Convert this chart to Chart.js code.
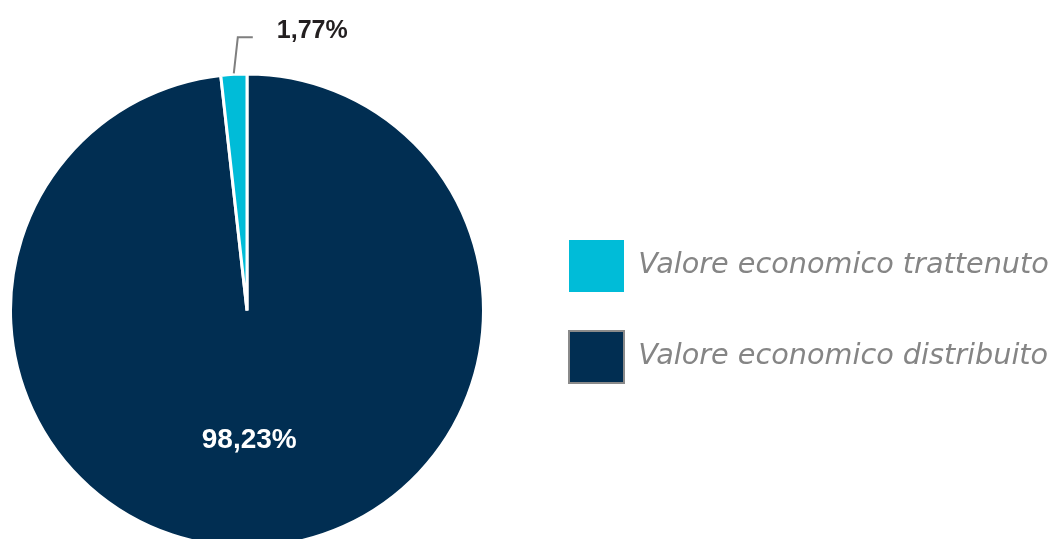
<!DOCTYPE html>
<html>
<head>
<meta charset="utf-8">
<script src="https://cdn.jsdelivr.net/npm/chart.js@4/dist/chart.umd.min.js"></script>
<style>
  html, body { margin: 0; padding: 0; background: #ffffff; }
  #wrap { width: 1053px; height: 539px; position: relative; overflow: hidden; }
</style>
</head>
<body>
<div id="wrap"><canvas id="chart"></canvas></div>
<script>
// Composizione del valore economico generato
const categories = ['Valore economico distribuito', 'Valore economico trattenuto'];
const shares = [98.23, 1.77];
const valueLabels = ['98,23%', '1,77%'];
const sliceColors = ['#012e52', '#00bcd8'];

// Pie placement: centre and radius of the disc on the canvas
const PIE_CX = 247, PIE_CY = 310.5, PIE_R = 238;
// Width reserved for the legend column on the right
const LEGEND_W = 523;

const pieFrame = {
  id: 'pieFrame',
  beforeLayout(chart) {
    const lg = chart.legend;
    if (lg && !lg._fixedWidth) {
      const fit = lg.fit;
      lg.fit = function () {
        fit.call(this);
        this.width = LEGEND_W;
      };
      lg._fixedWidth = true;
    }
  },
  afterLayout(chart) {
    chart.chartArea = {
      left: PIE_CX - PIE_R, top: PIE_CY - PIE_R,
      right: PIE_CX + PIE_R, bottom: PIE_CY + PIE_R,
      width: 2 * PIE_R, height: 2 * PIE_R
    };
  }
};

const sliceLabels = {
  id: 'sliceLabels',
  afterDatasetsDraw(chart) {
    const ctx = chart.ctx;
    const meta = chart.getDatasetMeta(0);
    meta.data.forEach((arc, i) => {
      const p = arc.getProps(['x', 'y', 'startAngle', 'endAngle', 'outerRadius'], true);
      const mid = (p.startAngle + p.endAngle) / 2;
      ctx.save();
      if (shares[i] >= 10) {
        const d = p.outerRadius * 0.55;
        ctx.font = 'bold 28px "Liberation Sans", Arial, sans-serif';
        ctx.fillStyle = '#ffffff';
        ctx.textAlign = 'center';
        ctx.textBaseline = 'alphabetic';
        ctx.fillText(valueLabels[i], p.x + Math.cos(mid) * d - 5, p.y + Math.sin(mid) * d + 8);
      } else {
        const r0 = p.outerRadius + 1;
        const x0 = p.x + Math.cos(mid) * r0;
        const y0 = p.y + Math.sin(mid) * r0;
        const x1 = x0 + 4, y1 = y0 - 36;
        const x2 = x1 + 15;
        ctx.strokeStyle = '#7f7f7f';
        ctx.lineWidth = 2;
        ctx.beginPath();
        ctx.moveTo(x0, y0);
        ctx.lineTo(x1, y1);
        ctx.lineTo(x2, y1);
        ctx.stroke();
        ctx.font = 'bold 25px "Liberation Sans", Arial, sans-serif';
        ctx.fillStyle = '#231f20';
        ctx.textAlign = 'left';
        ctx.textBaseline = 'alphabetic';
        ctx.fillText(valueLabels[i], x2 + 24, y1 + 1);
      }
      ctx.restore();
    });
  }
};

new Chart(document.getElementById('chart'), {
  type: 'pie',
  data: {
    labels: categories,
    datasets: [{
      data: shares,
      backgroundColor: sliceColors,
      borderColor: '#ffffff',
      borderWidth: 3
    }]
  },
  options: {
    responsive: true,
    maintainAspectRatio: false,
    animation: false,
    layout: { padding: { top: 84, right: 0, bottom: 0, left: 0 } },
    plugins: {
      tooltip: { enabled: false },
      legend: {
        position: 'right',
        align: 'center',
        reverse: true,
        labels: {
          boxWidth: 55,
          boxHeight: 52,
          padding: 39,
          color: '#858585',
          font: { family: '"DejaVu Sans"', size: 28.7, style: 'italic', weight: 200 },
          generateLabels(chart) {
            return categories.map((name, i) => ({
              text: name,
              fillStyle: sliceColors[i],
              strokeStyle: i === 0 ? '#8a8a8a' : sliceColors[i],
              lineWidth: i === 0 ? 2 : 0,
              fontColor: '#858585',
              hidden: false,
              index: i,
              datasetIndex: 0
            }));
          }
        }
      }
    }
  },
  plugins: [pieFrame, sliceLabels]
});
</script>
</body>
</html>
